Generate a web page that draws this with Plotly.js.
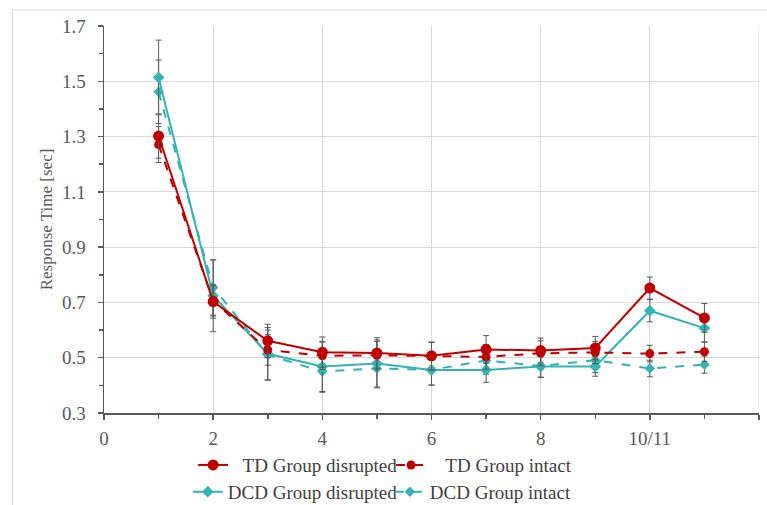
<!DOCTYPE html>
<html>
<head>
<meta charset="utf-8">
<script src="https://cdn.plot.ly/plotly-3.0.1.min.js"></script>
<style>html,body{margin:0;padding:0;background:#fff;}#chart{width:767px;height:505px;}</style>
</head>
<body>
<div id="chart"></div>
<script>
// Blocks (x positions; tick 10 labelled "10/11")
const blocks = [1, 2, 3, 4, 5, 6, 7, 8, 9, 10, 11];
const xTickVals = [0, 2, 4, 6, 8, 10, 12];
const xTickText = ['0', '2', '4', '6', '8', '10/11', ''];

// Series means (sec)
const tdDisrupted  = [1.302, 0.703, 0.561, 0.520, 0.517, 0.507, 0.530, 0.526, 0.535, 0.752, 0.644];
const tdIntact     = [1.271, 0.706, 0.528, 0.507, 0.509, 0.505, 0.503, 0.516, 0.519, 0.515, 0.522];
const dcdDisrupted = [1.514, 0.724, 0.514, 0.468, 0.479, 0.456, 0.456, 0.468, 0.468, 0.670, 0.607];
const dcdIntact    = [1.462, 0.754, 0.510, 0.450, 0.461, 0.456, 0.490, 0.470, 0.491, 0.461, 0.475];

// Error bar half-widths (sec)
const tdDisruptedErr  = [0.080, 0.060, 0.060, 0.055, 0.055, 0.050, 0.050, 0.045, 0.042, 0.040, 0.052];
const tdIntactErr     = [0.065, 0.055, 0.055, 0.050, 0.050, 0.050, 0.045, 0.045, 0.040, 0.030, 0.035];
const dcdDisruptedErr = [0.135, 0.130, 0.095, 0.090, 0.085, 0.055, 0.045, 0.040, 0.035, 0.040, 0.050];
const dcdIntactErr    = [0.115, 0.100, 0.090, 0.075, 0.070, 0.055, 0.050, 0.040, 0.045, 0.030, 0.031];

// Legend labels
const seriesNames = ['\u00a0\u00a0TD Group disrupted', '\u00a0\u00a0\u00a0TD Group intact',
                     'DCD Group disrupted', 'DCD Group intact'];

const red = '#C00000';
const teal = '#33B3B3';
const errStyle = (arr) => ({type: 'data', array: arr, visible: true, color: '#595959', thickness: 1, width: 3});

const traces = [
  {x: blocks, y: dcdIntact, name: seriesNames[3], mode: 'lines+markers', legend: 'legend2', legendrank: 2,
   line: {color: teal, width: 2, dash: 'dash'}, marker: {symbol: 'diamond', size: 8, color: teal},
   error_y: errStyle(dcdIntactErr)},
  {x: blocks, y: dcdDisrupted, name: seriesNames[2], mode: 'lines+markers', legend: 'legend2', legendrank: 1,
   line: {color: teal, width: 2}, marker: {symbol: 'diamond', size: 9, color: teal},
   error_y: errStyle(dcdDisruptedErr)},
  {x: blocks, y: tdIntact, name: seriesNames[1], mode: 'lines+markers', legend: 'legend', legendrank: 2,
   line: {color: red, width: 2, dash: 'dash'}, marker: {symbol: 'circle', size: 9, color: red},
   error_y: errStyle(tdIntactErr)},
  {x: blocks, y: tdDisrupted, name: seriesNames[0], mode: 'lines+markers', legend: 'legend', legendrank: 1,
   line: {color: red, width: 2}, marker: {symbol: 'circle', size: 11, color: red},
   error_y: errStyle(tdDisruptedErr)}
];

const fontFam = '"Liberation Serif", "Times New Roman", serif';
const legendBase = {orientation: 'h', xref: 'paper', yref: 'container', xanchor: 'left', yanchor: 'middle',
  font: {family: fontFam, size: 19, color: '#404040'}, itemwidth: 30, entrywidthmode: 'pixels',
  bgcolor: 'rgba(0,0,0,0)', borderwidth: 0, traceorder: 'normal'};

const layout = {
  width: 767, height: 505,
  margin: {l: 104, r: 8, t: 26, b: 92, autoexpand: false},
  paper_bgcolor: '#ffffff', plot_bgcolor: '#ffffff',
  font: {family: fontFam, color: '#595959', size: 19},
  showlegend: true,
  legend: Object.assign({}, legendBase, {x: 0.136, y: 0.079, entrywidth: 153}),
  legend2: Object.assign({}, legendBase, {x: 0.128, y: 0.026, entrywidth: 157}),
  xaxis: {range: [0, 12], tickvals: xTickVals, ticktext: xTickText,
          showgrid: true, gridcolor: '#d9d9d9', gridwidth: 1,
          showline: true, linecolor: '#595959', linewidth: 1.5,
          ticks: 'outside', ticklen: 5, tickcolor: '#595959', tickwidth: 1.5, ticklabelstandoff: 3,
          minor: {dtick: 1, tick0: 0, ticks: 'outside', ticklen: 4, tickcolor: '#595959', tickwidth: 1.5, showgrid: false},
          zeroline: false, tickfont: {size: 19, color: '#595959'}},
  yaxis: {range: [0.3, 1.7], tick0: 0.3, dtick: 0.2, tickformat: '.1f',
          showgrid: true, gridcolor: '#d9d9d9', gridwidth: 1,
          showline: true, linecolor: '#595959', linewidth: 1.5,
          ticks: 'outside', ticklen: 5, tickcolor: '#595959', tickwidth: 1.5, ticklabelstandoff: 8,
          minor: {dtick: 0.1, tick0: 0.3, ticks: 'outside', ticklen: 4, tickcolor: '#595959', tickwidth: 1.5, showgrid: false},
          zeroline: false, tickfont: {size: 19, color: '#595959'},
          title: {text: 'Response Time [sec]', font: {size: 17, color: '#595959'}, standoff: 5}},
  shapes: [
    {type: 'line', xref: 'x', yref: 'y', x0: 12, x1: 12, y0: 0.3, y1: 1.7, line: {color: '#d9d9d9', width: 1}, layer: 'below'},
    {type: 'rect', xref: 'paper', yref: 'paper', x0: -0.1398, x1: 1.05, y0: -0.3, y1: 1.0413,
     line: {color: '#d9d9d9', width: 1}, fillcolor: 'rgba(0,0,0,0)', layer: 'below'}
  ]
};

Plotly.newPlot('chart', traces, layout, {displayModeBar: false, staticPlot: true});
</script>
</body>
</html>
